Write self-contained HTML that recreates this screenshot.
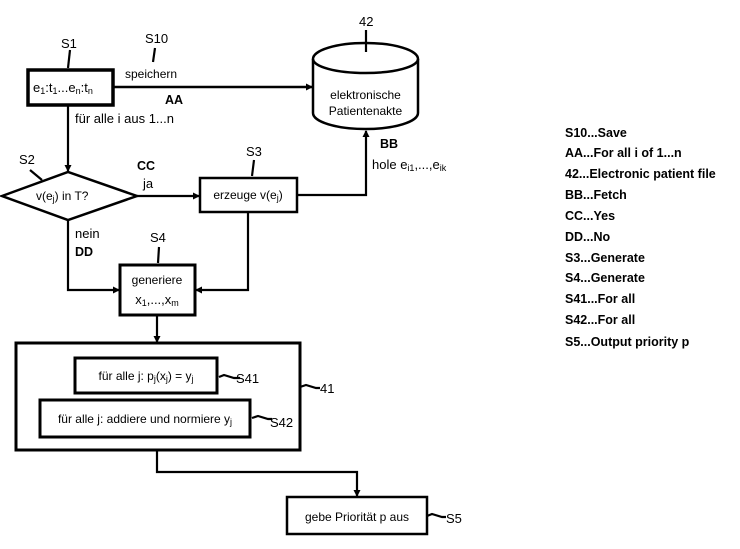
<!DOCTYPE html>
<html><head><meta charset="utf-8"><style>
html,body{margin:0;padding:0;background:#fff}
svg{display:block}
text{font-family:"Liberation Sans",sans-serif;fill:#000}
.l{font-size:12.5px;font-weight:bold}
.t{font-size:13px}
</style></head><body>
<svg width="740" height="549" viewBox="0 0 740 549" xmlns="http://www.w3.org/2000/svg">
<defs><marker id="a" markerWidth="7" markerHeight="7" refX="6" refY="3.5" orient="auto" markerUnits="userSpaceOnUse"><path d="M0,0 L7,3.5 L0,7z" fill="#000"/></marker></defs>
<g stroke="#000" fill="none" stroke-width="2.2">
<rect x="28" y="70" width="85" height="35" stroke-width="3.5"/>
<line x1="113" y1="87" x2="312" y2="87" marker-end="url(#a)" stroke-width="2.5"/>
<path d="M313,59 A52.5,16 0 0 1 418,59 L418,113 A52.5,16 0 0 1 313,113 Z" stroke-width="2.5"/>
<path d="M313,59 A52.5,14 0 0 0 418,59" stroke-width="2.5"/>
<line x1="366" y1="30" x2="366" y2="52"/>
<line x1="70" y1="50" x2="68" y2="68"/>
<line x1="155" y1="48" x2="153" y2="62"/>
<line x1="68" y1="105" x2="68" y2="171" marker-end="url(#a)"/>
<path d="M2,196 L68,172 L137,196 L68,220 Z" stroke-width="2.5"/>
<line x1="30" y1="170" x2="42" y2="180"/>
<line x1="137" y1="196" x2="199" y2="196" marker-end="url(#a)"/>
<rect x="200" y="178" width="97" height="34" stroke-width="2.5"/>
<line x1="254" y1="160" x2="252" y2="176"/>
<path d="M297,195 L366,195 L366,131" marker-end="url(#a)"/>
<path d="M68,220 L68,290 L119,290" marker-end="url(#a)"/>
<path d="M248,212 L248,290 L196,290" marker-end="url(#a)"/>
<rect x="120" y="265" width="75" height="50" stroke-width="3"/>
<line x1="159" y1="247" x2="158" y2="263"/>
<line x1="157" y1="315" x2="157" y2="342" marker-end="url(#a)"/>
<rect x="16" y="343" width="284" height="107" stroke-width="3"/>
<rect x="75" y="358" width="142" height="35" stroke-width="3"/>
<rect x="40" y="400" width="210" height="37" stroke-width="3"/>
<path d="M219,377 L224,375 L234,378 L240,378"/>
<path d="M252,418 L258,416 L268,419 L272,419"/>
<path d="M300,387 L306,385 L316,388 L320,388"/>
<path d="M157,450 L157,472 L357,472 L357,496" marker-end="url(#a)"/>
<rect x="287" y="497" width="140" height="37" stroke-width="2.5"/>
<path d="M427,516 L432,514 L442,517 L446,517"/>
</g>
<text x="61" y="48" class="t">S1</text>
<text x="145" y="43" class="t">S10</text>
<text x="125" y="78" style="font-size:12px">speichern</text>
<text x="165" y="104" class="l">AA</text>
<text x="75" y="123" class="t">für alle i aus 1...n</text>
<text x="33" y="92" class="t">e<tspan font-size="9" dy="2">1</tspan><tspan dy="-2">:t</tspan><tspan font-size="9" dy="2">1</tspan><tspan dy="-2">...e</tspan><tspan font-size="9" dy="2">n</tspan><tspan dy="-2">:t</tspan><tspan font-size="9" dy="2">n</tspan></text>
<text x="359" y="26" class="t">42</text>
<text x="365.5" y="99" text-anchor="middle" style="font-size:12px">elektronische</text>
<text x="365.5" y="115" text-anchor="middle" style="font-size:12px">Patientenakte</text>
<text x="380" y="148" class="l">BB</text>
<text x="372" y="169" class="t">hole e<tspan font-size="9" dy="2">i1</tspan><tspan dy="-2">,...,e</tspan><tspan font-size="9" dy="2">ik</tspan></text>
<text x="19" y="164" class="t">S2</text>
<text x="36" y="200" style="font-size:12px">v(e<tspan font-size="9" dy="2">j</tspan><tspan dy="-2">) in T?</tspan></text>
<text x="137" y="170" class="l">CC</text>
<text x="143" y="188" class="t">ja</text>
<text x="246" y="156" class="t">S3</text>
<text x="248" y="199" text-anchor="middle" style="font-size:12px">erzeuge v(e<tspan font-size="9" dy="2">j</tspan><tspan dy="-2">)</tspan></text>
<text x="75" y="238" class="t">nein</text>
<text x="75" y="256" class="l">DD</text>
<text x="150" y="242" class="t">S4</text>
<text x="157" y="284" text-anchor="middle" style="font-size:12px">generiere</text>
<text x="157" y="304" text-anchor="middle" class="t">x<tspan font-size="9" dy="2">1</tspan><tspan dy="-2">,...,x</tspan><tspan font-size="9" dy="2">m</tspan></text>
<text x="146" y="380" text-anchor="middle" style="font-size:12px">für alle j: p<tspan font-size="9" dy="2">j</tspan><tspan dy="-2">(x</tspan><tspan font-size="9" dy="2">j</tspan><tspan dy="-2">) = y</tspan><tspan font-size="9" dy="2">j</tspan></text>
<text x="145" y="423" text-anchor="middle" style="font-size:12px">für alle j: addiere und normiere y<tspan font-size="9" dy="2">j</tspan></text>
<text x="236" y="383" class="t">S41</text>
<text x="270" y="427" class="t">S42</text>
<text x="320" y="393" class="t">41</text>
<text x="357" y="521" text-anchor="middle" style="font-size:12px">gebe Priorität p aus</text>
<text x="446" y="523" class="t">S5</text>
<text x="565" y="137" class="l">S10...Save</text>
<text x="565" y="157" class="l">AA...For all i of 1...n</text>
<text x="565" y="178" class="l">42...Electronic patient file</text>
<text x="565" y="199" class="l">BB...Fetch</text>
<text x="565" y="220" class="l">CC...Yes</text>
<text x="565" y="241" class="l">DD...No</text>
<text x="565" y="262" class="l">S3...Generate</text>
<text x="565" y="282" class="l">S4...Generate</text>
<text x="565" y="303" class="l">S41...For all</text>
<text x="565" y="324" class="l">S42...For all</text>
<text x="565" y="346" class="l">S5...Output priority p</text>
</svg>
</body></html>
